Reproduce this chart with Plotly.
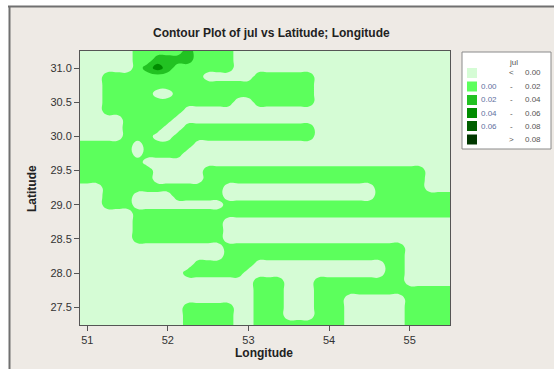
import numpy as np
import plotly.graph_objects as go

# ---------------- data ----------------
# grid nodes (longitude columns, latitude rows from north to south)
lon = np.round(np.arange(50.875, 55.5001, 0.125), 4)          # 38 columns
lat_north_to_south = np.round(np.arange(31.25, 27.12, -0.125), 4)  # 34 rows

# class of each grid node
# 0: < 0.00   1: 0.00-0.02   2: 0.02-0.04   3: 0.04-0.06
class_value = {"0": -0.01, "1": 0.01, "2": 0.03, "3": 0.05}
grid_rows = [
    "0000001111 1211110000 0000000000 00000000",  # 31.250
    "0000001122 2211110000 0000000000 00000000",
    "0000001232 1111110000 0000000000 00000000",  # 31.000
    "0001111111 1110000011 1111000000 00000000",
    "0001111111 1111111111 1111000000 00000000",  # 30.750
    "0001111100 1111111111 1111000000 00000000",
    "0001111111 1111110011 1111000000 00000000",  # 30.500
    "0001111111 1000000000 0000000000 00000000",
    "0000011111 0000000000 0000000000 00000000",  # 30.250
    "0000011110 0111111111 1111000000 00000000",
    "0000011100 1111111111 1111000000 00000000",  # 30.000
    "1111110111 1100000000 0000000000 00000000",
    "1111110111 1000000000 0000000000 00000000",  # 29.750
    "1111111000 0000000000 0000000000 00000000",
    "1111111100 0001111111 1111111111 11111000",  # 29.500
    "1111111100 0001111111 1111111111 11111000",
    "0001111111 1111100000 0000000000 11111000",  # 29.250
    "0001110000 1111100000 0000000000 11111111",
    "0001110000 0000011111 1111111111 11111111",  # 29.000
    "0000001111 1111111111 1111111111 11111111",
    "0000001111 1111100000 0000000000 00000000",  # 28.750
    "0000001111 1111100000 0000000000 00000000",
    "0000001111 1111100000 0000000000 00000000",  # 28.500
    "0000000000 0000011111 1111111111 11100000",
    "0000000000 0000011111 1111111111 11100000",  # 28.250
    "0000000000 0011111100 0000000000 01100000",
    "0000000000 0111111000 0000000000 01100000",  # 28.000
    "0000000000 0000000011 1000111111 11100000",
    "0000000000 0000000011 1000111111 11111111",  # 27.750
    "0000000000 0000000011 1000111000 00011111",
    "0000000000 0111110011 1000111000 00011111",  # 27.500
    "0000000000 0111110011 1000111000 00011111",
    "0000000000 0111110011 1111111000 00011111",  # 27.250
    "0000000000 0111110011 1111111000 00011111",
]

x_ticks = [51, 52, 53, 54, 55]
y_ticks = [27.5, 28.0, 28.5, 29.0, 29.5, 30.0, 30.5, 31.0]

legend_lower = ["<", "0.00", "0.02", "0.04", "0.06", ">"]
legend_upper = ["0.00", "0.02", "0.04", "0.06", "0.08", "0.08"]
level_colors = ["#d5fcd5", "#5cff5c", "#22c222", "#008c00", "#005f00", "#003800"]

# ---------------- figure ----------------
z_rows = [[class_value[c] for c in r.replace(" ", "")] for r in grid_rows]
z = np.array(z_rows[::-1])
lat = lat_north_to_south[::-1]

W, H = 554, 369


def px(x):
    return x / W


def py(y):
    return 1 - y / H


colorscale = [[i / 5, c] for i, c in enumerate(level_colors)]

fig = go.Figure()
fig.add_trace(go.Contour(
    x=lon, y=lat, z=z,
    autocontour=False,
    contours=dict(start=0, end=0.08, size=0.02, coloring="fill", showlines=False),
    colorscale=colorscale, showscale=False,
    line=dict(width=0, smoothing=1.3),
    hoverinfo="skip",
))

font_family = "Liberation Sans, Arial, sans-serif"
shapes = [
    # window panel
    dict(type="rect", xref="paper", yref="paper", x0=px(9), x1=px(554), y0=py(369), y1=py(6),
         fillcolor="#eeeae5", line=dict(width=0), layer="below"),
    dict(type="line", xref="paper", yref="paper", x0=px(8), x1=px(554), y0=py(6.5), y1=py(6.5),
         line=dict(color="#707070", width=2), layer="below"),
    dict(type="line", xref="paper", yref="paper", x0=px(9.5), x1=px(9.5), y0=py(369), y1=py(6),
         line=dict(color="#707070", width=2), layer="below"),
    # legend box
    dict(type="rect", xref="paper", yref="paper", x0=px(462), x1=px(551), y0=py(149), y1=py(52),
         fillcolor="#ffffff", line=dict(color="#8a8a8a", width=1)),
]

annotations = [
    dict(text="<b>Contour Plot of jul vs Latitude; Longitude</b>", x=px(271), y=py(33),
         xref="paper", yref="paper", showarrow=False, xanchor="center", yanchor="middle",
         font=dict(family=font_family, size=12, color="#222222")),
    dict(text="<b>Longitude</b>", x=px(264), y=py(353), xref="paper", yref="paper",
         showarrow=False, xanchor="center", yanchor="middle",
         font=dict(family=font_family, size=12, color="#222222")),
    dict(text="<b>Latitude</b>", x=px(32), y=py(189), xref="paper", yref="paper",
         showarrow=False, xanchor="center", yanchor="middle", textangle=-90,
         font=dict(family=font_family, size=12, color="#222222")),
    dict(text="jul", x=px(513), y=py(62), xref="paper", yref="paper",
         showarrow=False, xanchor="center", yanchor="middle",
         font=dict(family=font_family, size=8, color="#555555")),
]

row_y = [73, 86.5, 100, 113, 126, 139.5]
for k in range(6):
    yc = row_y[k]
    shapes.append(dict(type="rect", xref="paper", yref="paper", x0=px(467), x1=px(477),
                       y0=py(yc + 5), y1=py(yc - 5), fillcolor=level_colors[k],
                       line=dict(width=0)))
    if legend_lower[k] in ("<", ">"):
        annotations.append(dict(text=legend_lower[k], x=px(511), y=py(yc), xref="paper",
                                yref="paper", showarrow=False, xanchor="center",
                                yanchor="middle",
                                font=dict(family=font_family, size=8, color="#555555")))
    else:
        annotations.append(dict(text=legend_lower[k], x=px(489), y=py(yc), xref="paper",
                                yref="paper", showarrow=False, xanchor="center",
                                yanchor="middle",
                                font=dict(family=font_family, size=8, color="#6070a0")))
        annotations.append(dict(text="-", x=px(511), y=py(yc), xref="paper",
                                yref="paper", showarrow=False, xanchor="center",
                                yanchor="middle",
                                font=dict(family=font_family, size=8, color="#555555")))
    annotations.append(dict(text=legend_upper[k], x=px(543), y=py(yc), xref="paper",
                            yref="paper", showarrow=False, xanchor="right", yanchor="middle",
                            font=dict(family=font_family, size=8, color="#555555")))

axis_common = dict(showline=True, mirror=True, linecolor="#555555", linewidth=1,
                   ticks="outside", ticklen=5, tickcolor="#555555", showgrid=False,
                   zeroline=False, tickfont=dict(family=font_family, size=11, color="#333333"))

fig.update_layout(
    width=W, height=H,
    margin=dict(l=0, r=0, t=0, b=0),
    paper_bgcolor="#ffffff",
    plot_bgcolor="#d5fcd5",
    showlegend=False,
    xaxis=dict(domain=[px(80), px(450)], range=[50.91, 55.5], tickvals=x_ticks,
               ticktext=[str(v) for v in x_ticks], **axis_common),
    yaxis=dict(domain=[py(325), py(51)], range=[27.24, 31.25], tickvals=y_ticks,
               ticktext=[f"{v:.1f}" for v in y_ticks], **axis_common),
    shapes=shapes,
    annotations=annotations,
)

fig.write_html("out.html")
